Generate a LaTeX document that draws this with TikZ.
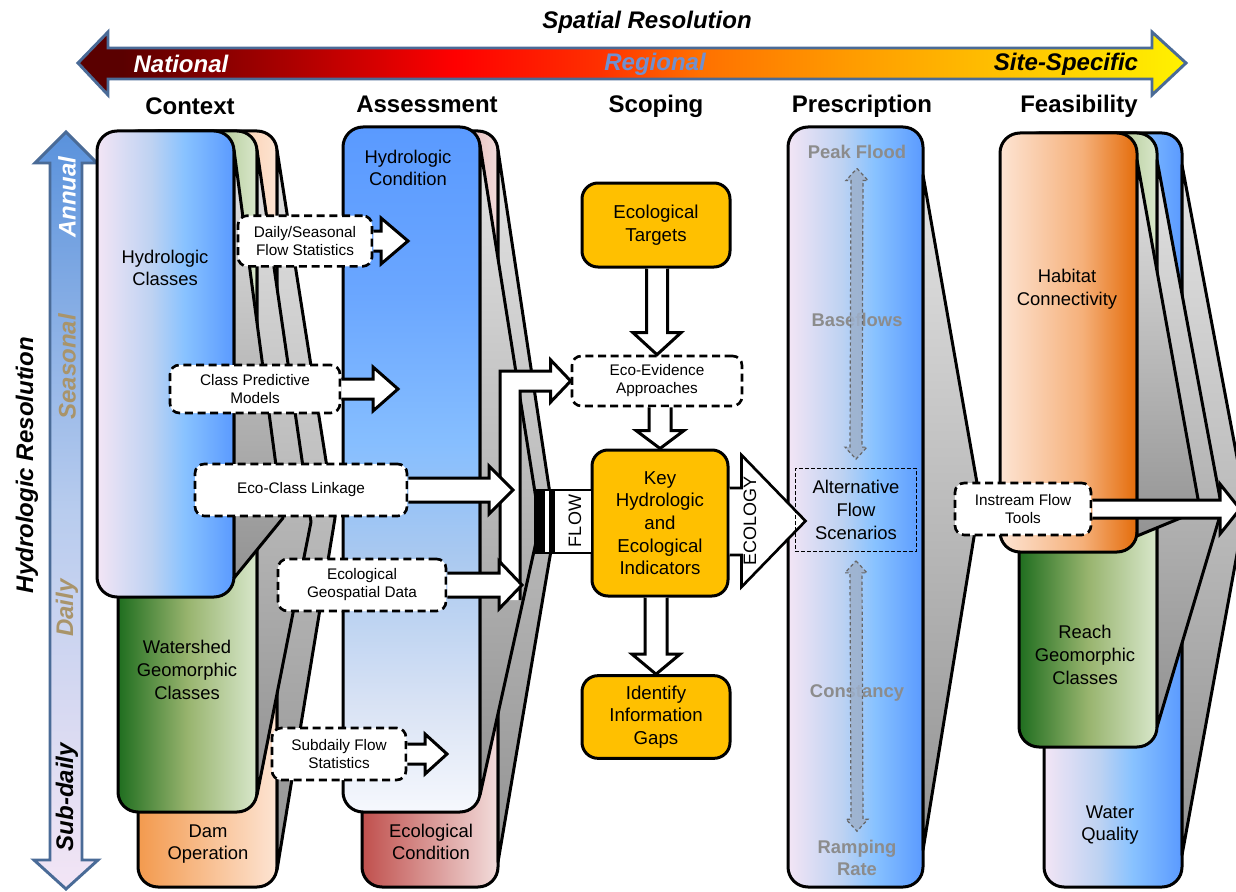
\documentclass[tikz,border=0pt]{standalone}
\usepackage{fontspec}
\setmainfont{Liberation Sans}
\usetikzlibrary{calc}

\definecolor{lav}{HTML}{F3E5F5}
\definecolor{midblu}{HTML}{BDD2F2}
\definecolor{skyblu}{HTML}{88C2FF}
\definecolor{blu}{HTML}{5A9AFF}
\definecolor{dgreen}{HTML}{1F6E1F}
\definecolor{mgreen}{HTML}{98B46E}
\definecolor{lgreen}{HTML}{D8E7CB}
\definecolor{dpeach}{HTML}{F39A4E}
\definecolor{lpeach}{HTML}{FDE4D3}
\definecolor{dred}{HTML}{C0504D}
\definecolor{lred}{HTML}{F2DCDB}
\definecolor{morange}{HTML}{F5B07A}
\definecolor{dorange}{HTML}{E46C0A}
\definecolor{gold}{HTML}{FFC000}
\definecolor{steel}{HTML}{4A6B97}
\definecolor{tan}{HTML}{A9946A}
\definecolor{labgray}{HTML}{8C8C8C}
\definecolor{arrgray}{HTML}{9DB0CB}
\definecolor{regblue}{HTML}{7090D0}
\definecolor{condw}{HTML}{F6F8FD}
\definecolor{condb}{HTML}{D8E2F4}
\definecolor{condc}{HTML}{A8C8F0}
\definecolor{condd}{HTML}{86BEFF}
\definecolor{conde}{HTML}{6AA6FF}
\definecolor{hyda}{HTML}{B8CCEE}
\definecolor{hydb}{HTML}{5A92DC}
\definecolor{sbara}{HTML}{5A0000}
\definecolor{sbarb}{HTML}{B00000}
\definecolor{sbarc}{HTML}{FF0000}
\definecolor{sbard}{HTML}{FF3000}
\definecolor{sbare}{HTML}{FF7000}
\definecolor{sbarf}{HTML}{FF9C00}
\definecolor{sbarg}{HTML}{FFC000}
\definecolor{sbarh}{HTML}{FFF200}

\pgfdeclarehorizontalshading{spatialbar}{100bp}{color(0bp)=(sbara); color(27bp)=(sbara); color(35bp)=(sbarb); color(42bp)=(sbarc); color(48.5bp)=(sbard); color(53bp)=(sbare); color(60bp)=(sbarf); color(66.5bp)=(sbarg); color(75bp)=(sbarh); color(100bp)=(sbarh)}
\pgfdeclareverticalshading{hydroarrow}{100bp}{color(0bp)=(lav); color(25bp)=(lav); color(50bp)=(hyda); color(75bp)=(hydb); color(100bp)=(hydb)}
\pgfdeclarehorizontalshading{bluecard}{100bp}{color(0bp)=(lav); color(25bp)=(lav); color(45bp)=(midblu); color(57bp)=(skyblu); color(75bp)=(blu); color(100bp)=(blu)}
\pgfdeclarehorizontalshading{greencard}{100bp}{color(0bp)=(dgreen); color(25bp)=(dgreen); color(50bp)=(mgreen); color(75bp)=(lgreen); color(100bp)=(lgreen)}
\pgfdeclarehorizontalshading{peachcard}{100bp}{color(0bp)=(dpeach); color(25bp)=(dpeach); color(75bp)=(lpeach); color(100bp)=(lpeach)}
\pgfdeclarehorizontalshading{redcard}{100bp}{color(0bp)=(dred); color(25bp)=(dred); color(75bp)=(lred); color(100bp)=(lred)}
\pgfdeclarehorizontalshading{orangecard}{100bp}{color(0bp)=(lpeach); color(25bp)=(lpeach); color(55bp)=(morange); color(75bp)=(dorange); color(100bp)=(dorange)}
\pgfdeclareverticalshading{condcard}{100bp}{color(0bp)=(condw); color(25bp)=(condw); color(33bp)=(condb); color(44bp)=(condc); color(52bp)=(condd); color(63bp)=(conde); color(75bp)=(blu); color(100bp)=(blu)}

% fat white arrows: start, tip, shaft half, head half, head length
\newcommand{\harrow}[5]{%
  \filldraw[blockarr] ($(#1 |- #2)+(0,-#3)$) -- ($(#2)+(-#5,-#3)$) -- ($(#2)+(-#5,-#4)$) -- (#2) -- ($(#2)+(-#5,#4)$) -- ($(#2)+(-#5,#3)$) -- ($(#1 |- #2)+(0,#3)$);}
\newcommand{\varrow}[5]{%
  \filldraw[blockarr] ($(#2 |- #1)+(-#3,0)$) -- ($(#2)+(-#3,-#5)$) -- ($(#2)+(-#4,-#5)$) -- (#2) -- ($(#2)+(#4,-#5)$) -- ($(#2)+(#3,-#5)$) -- ($(#2 |- #1)+(#3,0)$);}
\newcommand{\dblarrow}[2]{%
  \filldraw[flowarr] (#1) -- ($(#1)+(11,12)$) -- ($(#1)+(6,12)$) -- ($(#2)+(6,-12)$) -- ($(#2)+(11,-12)$) -- (#2) -- ($(#2)+(-11,-12)$) -- ($(#2)+(-6,-12)$) -- ($(#1)+(-6,12)$) -- ($(#1)+(-11,12)$) -- cycle;}

\begin{document}
\begin{tikzpicture}[x=0.75pt,y=0.75pt,yscale=-1,xscale=1,
  card/.style={draw=black, line width=2.25pt, rounded corners=15pt},
  face/.style={draw=black, line width=2.25pt, line join=round, top color=gray!22, bottom color=gray!85},
  blockarr/.style={draw=black, fill=white, line width=2.25pt, line join=miter},
  dbox/.style={draw=black, fill=white, line width=2pt, dash pattern=on 6pt off 3.5pt, rounded corners=7pt, align=center, inner sep=1pt, font=\fontsize{11.5}{13.5}\selectfont},
  goldbox/.style={draw=black, fill=gold, line width=2.25pt, rounded corners=12pt, align=center, font=\fontsize{14}{17}\selectfont},
  lbl/.style={align=center, font=\fontsize{13.8}{17}\selectfont},
  glbl/.style={align=center, text=labgray, font=\fontsize{13.8}{17}\selectfont\bfseries},
  colt/.style={font=\fontsize{18}{20}\selectfont\bfseries},
  res/.style={font=\fontsize{18}{20}\selectfont\bfseries\itshape},
  flowarr/.style={fill=arrgray, fill opacity=0.85, draw=black!60, line width=0.9pt, dash pattern=on 2.5pt off 2pt}]
\useasboundingbox (0,0) rectangle (1236,892);
\fill[white] (0,0) rectangle (1236,892);

% spatial resolution bar
\shade[draw=steel, line width=2.2pt, shading=spatialbar] (78,63) -- (108,32) -- (108,48) -- (1152,48) -- (1152,32) -- (1186,63) -- (1152,95) -- (1152,79) -- (108,79) -- (108,95) -- cycle;
\node[res] (spres) at (647,22) {Spatial Resolution};
\node[res, text=white] (natl) at (181,64) {National};
\node[res, text=regblue] (regl) at (655,64) {Regional};
\node[res] (site) at (1066,64) {Site-Specific};

\node[colt] (ctx) at (190,106) {Context};
\node[colt] (asm) at (427,104) {Assessment};
\node[colt] (scp) at (656,106) {Scoping};
\node[colt] (prs) at (862,106) {Prescription};
\node[colt] (fea) at (1079,106) {Feasibility};

% hydrologic resolution bar
\shade[draw=steel, line width=2.2pt, shading=hydroarrow] (66,132) -- (97,163) -- (82,163) -- (82,860) -- (98,860) -- (66,889) -- (34,860) -- (50,860) -- (50,163) -- (35,163) -- cycle;
\node[res, rotate=90] (hres) at (27,465) {Hydrologic Resolution};
\node[res, rotate=90, text=white] (ann) at (67,197) {Annual};
\node[res, rotate=90, text=tan] (sea) at (67,367) {Seasonal};
\node[res, rotate=90, text=tan] (dly) at (67,608) {Daily};
\node[res, rotate=90] (sub) at (67,797) {Sub-daily};

% context
\shade[card, shading=peachcard] (138,131) rectangle (277,887);
\shade[face] (277,150) -- (335,518) -- (277,870) -- cycle;
\shade[card, shading=greencard] (118,131) rectangle (257,812);
\shade[face] (257,150) -- (311,522) -- (257,795) -- cycle;
\shade[card, shading=bluecard] (97,131) rectangle (234,597);
\shade[face] (234,150) -- (283,518) -- (234,578) -- cycle;

% assessment
\shade[card, shading=redcard] (362,131) rectangle (498,887);
\shade[face] (498,150) -- (555,527) -- (498,862) -- cycle;
\shade[card, shading=condcard] (343,127) rectangle (480,812);
\shade[face] (480,145) -- (540,524) -- (480,795) -- cycle;

% prescription
\shade[card, shading=bluecard] (788,127) rectangle (923,887);
\shade[face] (923,175) -- (980,500) -- (923,850) -- cycle;

% feasibility
\shade[card, shading=bluecard] (1044,133) rectangle (1182,887);
\shade[face] (1182,165) -- (1246,505) -- (1182,855) -- cycle;
\shade[card, shading=greencard] (1019,133) rectangle (1157,747);
\shade[face] (1157,160) -- (1222,509) -- (1157,727) -- cycle;
\shade[card, shading=orangecard] (1000,133) rectangle (1137,552);
\shade[face] (1137,160) -- (1200,510) -- (1137,536) -- cycle;

\node[lbl] (hcl) at (165,268) {Hydrologic\\Classes};
\node[lbl] (wgc) at (187,670) {Watershed\\Geomorphic\\Classes};
\node[lbl] (dop) at (208,844) {Dam\\Operation};
\node[lbl] (hco) at (408,168) {Hydrologic\\Condition};
\node[lbl] (eco) at (431,842) {Ecological\\Condition};
\node[lbl] (hab) at (1067,289) {Habitat\\Connectivity};
\node[lbl] (rgc) at (1085,655) {Reach\\Geomorphic\\Classes};
\node[lbl] (wq) at (1110,825) {Water\\Quality};

% scoping
\node[goldbox, minimum width=111pt, minimum height=63pt] (targets) at (656,225) {Ecological\\Targets};
\node[dbox, minimum width=127.5pt, minimum height=37.5pt] (eea) at (657,381) {Eco-Evidence\\Approaches};
\node[goldbox, minimum width=102pt, minimum height=109.5pt] (key) at (660,523) {Key\\Hydrologic\\and\\Ecological\\Indicators};
\node[goldbox, minimum width=111pt, minimum height=62pt] (gaps) at (656,717) {Identify\\Information\\Gaps};

\coordinate (coll) at (510,600);
\filldraw[blockarr] ($(coll)+(-10,0)$) |- ($(eea.west)+(-20,-10)$) -- ($(eea.west)+(-20,-21)$) -- (eea.west) -- ($(eea.west)+(-20,21)$) -- ($(eea.west)+(-20,10)$) -| ($(coll)+(10,0)$);

% context outputs
\node[dbox, minimum width=100.5pt, minimum height=38pt] (dss) at (305,241) {Daily/Seasonal\\Flow Statistics};
\node[dbox, minimum width=127.5pt, minimum height=36pt] (cpm) at (255,389) {Class Predictive\\Models};
\node[dbox, minimum width=159pt, minimum height=39pt] (ecl) at (301,490) {Eco-Class Linkage};
\node[dbox, minimum width=126pt, minimum height=39pt] (egd) at (362,585) {Ecological\\Geospatial Data};
\node[dbox, minimum width=100.5pt, minimum height=39pt] (sfs) at (339,754) {Subdaily Flow\\Statistics};
\coordinate (tdss) at (408,241);
\coordinate (tcpm) at (398,389);
\coordinate (tecl) at (513,490);
\coordinate (tegd) at (522,585);
\coordinate (tsfs) at (447,754);
\harrow{dss.east}{tdss}{10}{23}{27}
\harrow{cpm.east}{tcpm}{10}{22}{25}
\harrow{ecl.east}{tecl}{12}{24}{24}
\harrow{egd.east}{tegd}{12}{24}{23}
\harrow{sfs.east}{tsfs}{10}{20}{22}

\varrow{targets.south}{eea.north}{10.5}{24}{22}
\varrow{eea.south}{key.north}{11}{24}{18}
\varrow{key.south}{gaps.north}{11}{24}{20}

% flow in, ecology out
\draw[line width=1.5pt, fill=white] (535,490) rectangle (592,553);
\fill (535,490) rectangle (545,553);
\fill (549,490) rectangle (555,553);
\node[rotate=90, font=\fontsize{13.5}{15}\selectfont] (flow) at (575,521) {FLOW};
\filldraw[blockarr, line width=2pt] ($(key.east)+(0,-35)$) -- ($(key.east)+(12,-35)$) -- ($(key.east)+(12,-68)$) -- ($(key.east)+(76,-2)$) -- ($(key.east)+(12,64)$) -- ($(key.east)+(12,32)$) -- ($(key.east)+(0,32)$);
\node[rotate=90, font=\fontsize{13.5}{15}\selectfont] (ecol) at (750,521) {ECOLOGY};

% prescription items
\node[glbl] (pf) at (857,152) {Peak Flood};
\node[glbl] (bf) at (857,320) {Baseflows};
\node[glbl] (cs) at (857,693) {Constancy};
\node[glbl] (rr) at (857,858) {Ramping\\Rate};
\node[lbl, draw, line width=0.8pt, dash pattern=on 2.5pt off 2pt, minimum width=91pt, minimum height=62pt] (afs) at (856,510) {Alternative\\Flow\\Scenarios};
\coordinate (pa) at ($(pf.south)+(0,5)$);
\coordinate (pb) at ($(afs.north)+(0,-9)$);
\coordinate (pc) at ($(afs.south)+(0,9)$);
\coordinate (pd) at ($(rr.north)+(0,-4)$);
\dblarrow{pa}{pb}
\dblarrow{pc}{pd}

% feasibility output
\node[dbox, minimum width=102pt, minimum height=39pt] (ift) at (1023,509) {Instream Flow\\Tools};
\coordinate (tift) at (1240,509);
\harrow{ift.east}{tift}{9}{25}{20}
\end{tikzpicture}
\end{document}
